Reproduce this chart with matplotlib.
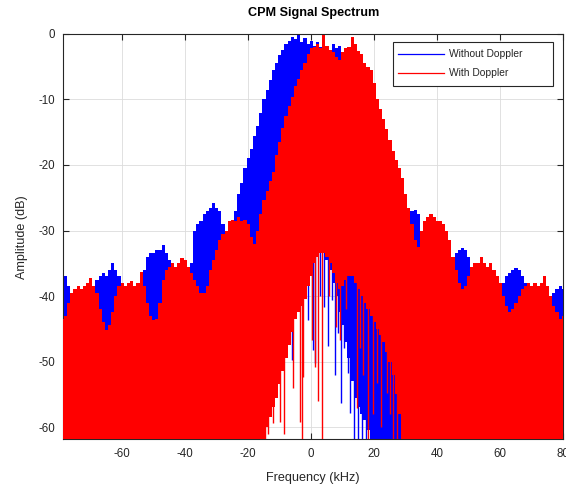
import numpy as np
import matplotlib
matplotlib.use("Agg")
import matplotlib.pyplot as plt

plt.rcParams['font.family'] = ['Liberation Sans', 'DejaVu Sans']
plt.rcParams['axes.unicode_minus'] = False

# Frequency bins of the envelope tables (kHz)
freq_khz = np.arange(-79, 81)

# Peak envelope of the spectrum without Doppler shift (dB), one value per bin
without_doppler_db = [
    -38, -37, -38.5, -40, -41, -42, -42.5, -42.5, -42, -41,
    -39.5, -37.5, -37, -36.5, -37, -36, -35, -36, -37, -38.5,
    -40, -41, -41.5, -41.5, -41, -39.5, -36, -34, -33.5, -33.5,
    -33, -33, -32.2, -33.5, -34.5, -36, -38, -39, -39.5, -39,
    -37.5, -35, -30, -29, -28.5, -27.5, -27, -26.5, -25.8, -26.5,
    -27, -29, -30, -30.5, -30, -27, -24.5, -22.8, -20.5, -19,
    -17.5, -15.5, -14, -12, -10, -8.5, -7, -5.5, -4.5, -3.2,
    -2.4, -1.5, -1, -0.4, -0.8, -0.2, -1.2, -0.6, -1.5, -1,
    -1.8, -1.2, -2.0, -1.5, -1.8, -2.8, -1.5, -2.2, -1.8, -2.8,
    -3.5, -4.5, -5.5, -7, -8.5, -10, -12, -14.5, -16, -18,
    -20, -21.5, -23, -24.5, -26, -28, -30, -30, -29, -28.5,
    -28.5, -27, -26.8, -27.5, -31, -33, -35, -36.5, -37, -38,
    -37, -36, -35.5, -36, -35, -33.5, -33, -32.7, -33, -34,
    -36.5, -38, -39, -40, -41, -41.5, -41, -40.5, -40, -39.5,
    -38, -37, -36.5, -36, -35.7, -36, -37, -38, -39.5, -40.5,
    -41.5, -42, -42, -41.5, -41, -41, -39.5, -39, -38.5, -39,
]

# Peak envelope of the spectrum with Doppler shift (dB), one value per bin
with_doppler_db = [
    -43.5, -43, -41, -39.5, -39, -38.5, -39, -38.5, -38, -37.3,
    -38.5, -39.5, -42, -44, -45.2, -44.5, -42.5, -40, -38.5, -38,
    -38.5, -38, -37.7, -38.5, -38, -36.3, -38.5, -41, -43, -43.7,
    -43.5, -41, -37.5, -36, -35.5, -35, -35.5, -35, -34.2, -34.5,
    -35.5, -36.5, -37.5, -38.5, -39.5, -39.6, -38.5, -36, -34.5, -33,
    -31.5, -30.5, -30, -28.5, -28.4, -28.5, -28, -28.5, -28.4, -29,
    -31, -32, -30, -27.5, -25.3, -24, -22.5, -21, -18.5, -16.5,
    -14.3, -12.5, -11, -9.6, -8, -6.8, -5.5, -4.5, -3, -2.2,
    -2, -1.6, -2.2, -0.2, -1.8, -2.4, -2.8, -3.5, -4, -2.8,
    -2.2, -2, -0.4, -1.6, -2.6, -3, -4.5, -5, -5.5, -7.5,
    -10, -11.5, -13, -14.5, -16.2, -17.8, -19.2, -20.5, -22, -24.5,
    -26.5, -29, -31.5, -32.5, -30, -28.5, -28, -27.5, -28, -28.5,
    -28.5, -29, -30, -31.5, -34, -36, -38, -39, -38.5, -37,
    -35.5, -35, -35, -34, -35, -35.5, -35, -36, -37, -38,
    -40, -41.5, -42.5, -42, -41, -40, -39, -38.5, -38, -38.5,
    -38, -38.5, -38, -37, -38.5, -40, -41.5, -42.5, -43.5, -43,
]

# Lowest level reached near the carrier (dB); elsewhere the trace runs off the bottom
without_floor_khz = list(range(-15, 20))
without_floor_db = [
    -60, -56, -52, -49, -46, -44, -42, -40, -38, -37,
    -36, -35, -34, -33, -32, -32, -32, -32, -32.5, -33.5,
    -34.5, -36, -38, -40, -42.5, -44.5, -47, -49.5, -53, -55.5,
    -57, -58, -59, -60.5, -62,
]
with_floor_khz = list(range(-15, 30))
with_floor_db = [
    -62, -60, -58.5, -57, -55.5, -53.5, -51.5, -49.5, -47.5, -45.5,
    -43.5, -42.5, -41.5, -40.5, -38.5, -37, -35, -34, -33.5, -33.5,
    -34, -35, -36.5, -38, -39, -38.5, -37.5, -37, -37, -38,
    -39, -40, -41, -42, -43, -44, -45, -46, -47, -48.5,
    -50, -52, -55, -58, -62,
]

# Isolated deep nulls near the carrier: frequency (kHz) and lowest level (dB)
without_null_khz = [-6.0, -4.1, -0.9, 0.6, 1.2, 2.8, 4.0, 5.4, 6.7, 7.5,
                    8.6, 9.3, 10.5, 11.7, 12.3, 13.6, 14.9, 16.2, 17.4]
without_null_db = [-49.8, -41.6, -43.7, -48.2, -50.2, -40, -41.6, -47.7, -40.6, -52,
                   -45.7, -56.4, -48, -51.8, -57.9, -62, -62, -62, -62]
with_null_khz = [-14.6, -13.7, -12.2, -10.0, -8.5, -5.7, -3.6, -3.0, -2.5, 0.1,
                 1.2, 2.1, 3.3, 5.5, 7.9, 9.1, 11.0, 14.4, 15.6, 16.5,
                 18.1, 19.5, 20.8, 22.0, 23.9, 25.0, 26.0, 27.1]
with_null_db = [-62, -61, -59.4, -59.2, -61, -54, -59.2, -62, -52.3, -46.7,
                -50.8, -56, -62, -40, -44.7, -46.7, -42, -57.1, -48, -52,
                -62, -58, -53.3, -60, -54.8, -58, -62, -62]

series_labels = ['Without Doppler', 'With Doppler']
x_ticks = [-60, -40, -20, 0, 20, 40, 60, 80]
y_ticks = [-60, -50, -40, -30, -20, -10, 0]


def full_floor(khz, db):
    floor = np.full(freq_khz.shape, -80.0)
    floor[np.searchsorted(freq_khz, khz)] = db
    return floor


fig = plt.figure(figsize=(5.66, 4.86), dpi=100)
ax = fig.add_axes([0.1118, 0.0957, 0.8834, 0.8344])

blue = (0, 0, 1)
red = (1, 0, 0)
colors = [blue, red]

ax.fill_between(freq_khz, full_floor(without_floor_khz, without_floor_db),
                without_doppler_db, step='mid', color=blue, lw=0, zorder=2)
ax.vlines(without_null_khz, without_null_db, -30, color=blue, lw=1.0, zorder=2.1)
ax.fill_between(freq_khz, full_floor(with_floor_khz, with_floor_db),
                with_doppler_db, step='mid', color=red, lw=0, zorder=3)
ax.vlines(with_null_khz, with_null_db, -30, color=red, lw=1.0, zorder=3.1)

ax.set_xlim(-78.7, 80)
ax.set_ylim(-61.9, 0)
ax.set_xticks(x_ticks)
ax.set_yticks(y_ticks)

axis_gray = '#262626'
ax.grid(True, color='#dcdcdc', lw=0.6)
ax.set_axisbelow(True)
for s in ax.spines.values():
    s.set_color(axis_gray)
    s.set_linewidth(0.8)
ax.tick_params(direction='in', length=4, width=0.8, top=True, right=True,
               colors=axis_gray, labelsize=8.3, pad=6)

ax.set_title('CPM Signal Spectrum', fontsize=9.1, fontweight='bold',
             color='black', pad=13)
ax.set_xlabel('Frequency (kHz)', fontsize=9.1, color=axis_gray, labelpad=9)
ax.set_ylabel('Amplitude (dB)', fontsize=9.1, color=axis_gray, labelpad=7)

# Legend box with its two entries, in axes coordinates
box = plt.Rectangle((0.66, 0.8725), 0.32, 0.107, transform=ax.transAxes,
                    facecolor='white', edgecolor=axis_gray, lw=0.8, zorder=5)
ax.add_patch(box)
for row_y, label, c in zip([0.95, 0.903], series_labels, colors):
    ax.plot([0.67, 0.762], [row_y, row_y], transform=ax.transAxes,
            color=c, lw=0.9, zorder=6)
    ax.text(0.7708, row_y, label, transform=ax.transAxes, fontsize=7.4,
            color=axis_gray, va='center', ha='left', zorder=6)

fig.savefig('out.png', dpi=100)
